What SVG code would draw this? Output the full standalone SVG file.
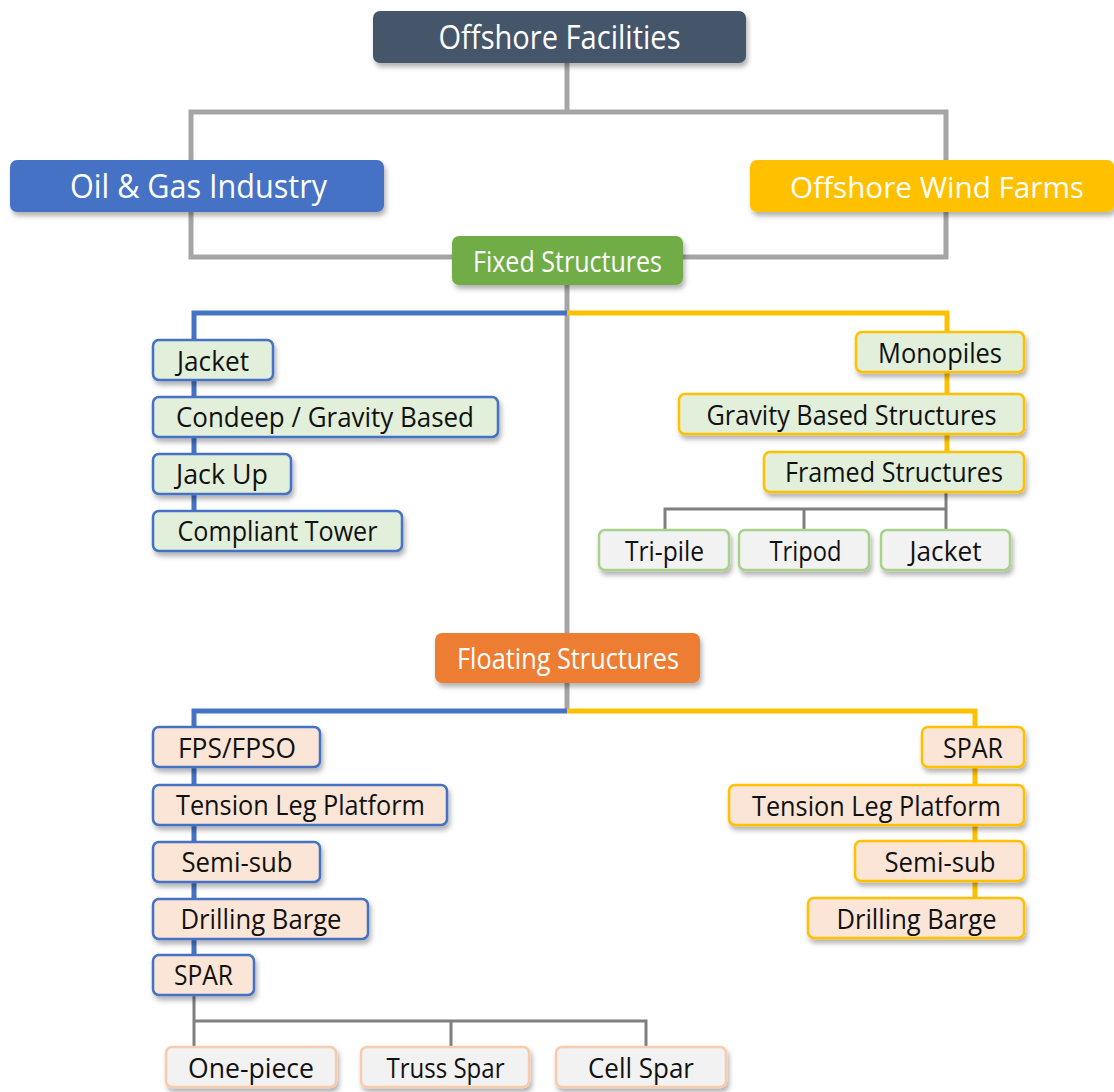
<svg xmlns="http://www.w3.org/2000/svg" width="1114" height="1092" viewBox="0 0 1114 1092">
<defs>
<filter id="sh" x="-10%" y="-30%" width="130%" height="180%">
<feDropShadow dx="2" dy="4" stdDeviation="2.5" flood-color="#000" flood-opacity="0.3"/>
</filter>
<style>
text{font-family:"Open Sans","Noto Sans","DejaVu Sans",sans-serif;text-anchor:middle;}
.big rect{filter:url(#sh);}
.big text{fill:#fff;font-size:33px;}
.mid text{fill:#fff;font-size:29px;}
.sm rect{stroke-width:2.5;filter:url(#sh);}
.sm text{fill:#111;font-size:27px;}
.gf rect{fill:#e2efda;}
.pf rect{fill:#fbe5d6;}
.sf rect{fill:#f2f2f2;}
.bl rect{stroke:#4472c4;}
.yl rect{stroke:#ffc000;}
.lg rect{stroke:#a9d18e;}
.lo rect{stroke:#f8cbad;}
.c{fill:none;stroke-width:5;}
.cg{stroke:#a5a5a5;}
.cb{stroke:#4472c4;}
.cy{stroke:#ffc000;}
.cs{fill:none;stroke:#7f7f7f;stroke-width:3;}
</style>
</defs>
<rect width="1114" height="1092" fill="#fff"/>
<g id="connectors">
<path class="c cg" d="M567 63 V112 M452 257 H191 V112 H946 V257 H683 M567 285 V633 M567 683 V711"/>
<path class="c cb" d="M567 313 H194 V530 M567 711 H194 V975"/>
<path class="c cy" d="M567 313 H947 V470 M567 711 H975 V918"/>
<path class="cs" d="M946 491 V530 M665 530 V509 H946 M804 509 V530 M194 994 V1047 M194 1021 H646 V1047 M451 1021 V1047"/>
</g>
<g id="n-facilities" class="big"><rect x="373" y="11" width="373" height="52" rx="7" fill="#44546a"/><text x="559.5" y="49" textLength="242" lengthAdjust="spacingAndGlyphs">Offshore Facilities</text></g>
<g id="n-oilgas" class="big"><rect x="10" y="160" width="374" height="52" rx="7" fill="#4472c4"/><text x="198.5" y="198" textLength="257" lengthAdjust="spacingAndGlyphs">Oil &amp; Gas Industry</text></g>
<g id="n-wind" class="big"><rect x="750" y="160" width="364" height="52" rx="7" fill="#ffc000"/><text x="937" y="197.5" style="font-size:30px" textLength="294" lengthAdjust="spacingAndGlyphs">Offshore Wind Farms</text></g>
<g id="n-fixed" class="big mid"><rect x="452" y="236" width="231" height="49" rx="7" fill="#70ad47"/><text x="567.5" y="271.5" textLength="189" lengthAdjust="spacingAndGlyphs">Fixed Structures</text></g>
<g id="n-floating" class="big mid"><rect x="435" y="633" width="265" height="50" rx="7" fill="#ed7d31"/><text x="568" y="668.5" textLength="222" lengthAdjust="spacingAndGlyphs">Floating Structures</text></g>

<g id="n-og-jacket" class="sm gf bl"><rect x="153" y="340" width="120" height="40" rx="6"/><text x="213" y="370.5" textLength="72" lengthAdjust="spacingAndGlyphs">Jacket</text></g>
<g id="n-og-condeep" class="sm gf bl"><rect x="153" y="397" width="345" height="40" rx="6"/><text x="325" y="427" textLength="298" lengthAdjust="spacingAndGlyphs">Condeep / Gravity Based</text></g>
<g id="n-og-jackup" class="sm gf bl"><rect x="153" y="454" width="138" height="40" rx="6"/><text x="222" y="484" textLength="92" lengthAdjust="spacingAndGlyphs">Jack Up</text></g>
<g id="n-og-compliant" class="sm gf bl"><rect x="153" y="511" width="249" height="40" rx="6"/><text x="277.5" y="541" textLength="200" lengthAdjust="spacingAndGlyphs">Compliant Tower</text></g>

<g id="n-w-monopiles" class="sm gf yl"><rect x="856" y="332" width="168" height="40" rx="6"/><text x="940" y="362.5" textLength="124" lengthAdjust="spacingAndGlyphs">Monopiles</text></g>
<g id="n-w-gravity" class="sm gf yl"><rect x="679" y="394" width="345" height="40" rx="6"/><text x="851.5" y="424.5" textLength="290" lengthAdjust="spacingAndGlyphs">Gravity Based Structures</text></g>
<g id="n-w-framed" class="sm gf yl"><rect x="764" y="452" width="260" height="40" rx="6"/><text x="894" y="482" textLength="218" lengthAdjust="spacingAndGlyphs">Framed Structures</text></g>
<g id="n-w-tripile" class="sm sf lg"><rect x="599" y="530" width="130" height="40" rx="6"/><text x="664.5" y="560.5" textLength="79" lengthAdjust="spacingAndGlyphs">Tri-pile</text></g>
<g id="n-w-tripod" class="sm sf lg"><rect x="739" y="530" width="130" height="40" rx="6"/><text x="805.5" y="560.5" textLength="72" lengthAdjust="spacingAndGlyphs">Tripod</text></g>
<g id="n-w-jacket" class="sm sf lg"><rect x="881" y="530" width="129" height="40" rx="6"/><text x="945.5" y="560.5" textLength="72" lengthAdjust="spacingAndGlyphs">Jacket</text></g>

<g id="n-og-fpso" class="sm pf bl"><rect x="153" y="727" width="167" height="40" rx="6"/><text x="237" y="757.5" textLength="118" lengthAdjust="spacingAndGlyphs">FPS/FPSO</text></g>
<g id="n-og-tlp" class="sm pf bl"><rect x="153" y="785" width="294" height="40" rx="6"/><text x="300.5" y="815" textLength="249" lengthAdjust="spacingAndGlyphs">Tension Leg Platform</text></g>
<g id="n-og-semisub" class="sm pf bl"><rect x="153" y="842" width="167" height="40" rx="6"/><text x="237" y="872" textLength="111" lengthAdjust="spacingAndGlyphs">Semi-sub</text></g>
<g id="n-og-barge" class="sm pf bl"><rect x="153" y="899" width="215" height="40" rx="6"/><text x="261" y="929" textLength="161" lengthAdjust="spacingAndGlyphs">Drilling Barge</text></g>
<g id="n-og-spar" class="sm pf bl"><rect x="153" y="955" width="101" height="40" rx="6"/><text x="203.5" y="985" textLength="59" lengthAdjust="spacingAndGlyphs">SPAR</text></g>
<g id="n-og-onepiece" class="sm sf lo"><rect x="166" y="1047" width="170" height="40" rx="6"/><text x="251" y="1077.5" textLength="126" lengthAdjust="spacingAndGlyphs">One-piece</text></g>
<g id="n-og-truss" class="sm sf lo"><rect x="361" y="1047" width="168" height="40" rx="6"/><text x="445.5" y="1077.5" textLength="118" lengthAdjust="spacingAndGlyphs">Truss Spar</text></g>
<g id="n-og-cell" class="sm sf lo"><rect x="556" y="1047" width="170" height="40" rx="6"/><text x="641" y="1077.5" textLength="106" lengthAdjust="spacingAndGlyphs">Cell Spar</text></g>

<g id="n-w-spar" class="sm pf yl"><rect x="922" y="727" width="102" height="40" rx="6"/><text x="973" y="757.5" textLength="60" lengthAdjust="spacingAndGlyphs">SPAR</text></g>
<g id="n-w-tlp" class="sm pf yl"><rect x="729" y="785" width="295" height="40" rx="6"/><text x="876.5" y="815.5" textLength="249" lengthAdjust="spacingAndGlyphs">Tension Leg Platform</text></g>
<g id="n-w-semisub" class="sm pf yl"><rect x="855" y="841" width="169" height="40" rx="6"/><text x="940" y="872" textLength="111" lengthAdjust="spacingAndGlyphs">Semi-sub</text></g>
<g id="n-w-barge" class="sm pf yl"><rect x="808" y="898" width="216" height="40" rx="6"/><text x="916.5" y="929" textLength="160" lengthAdjust="spacingAndGlyphs">Drilling Barge</text></g>
</svg>
